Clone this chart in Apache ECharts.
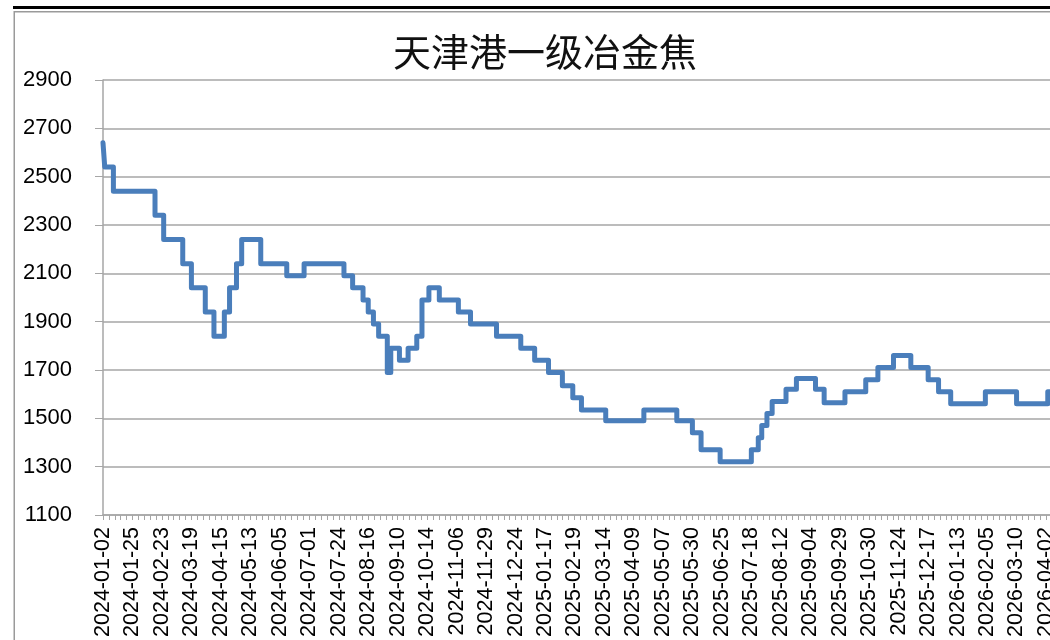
<!DOCTYPE html>
<html>
<head>
<meta charset="utf-8">
<script src="https://cdn.jsdelivr.net/npm/echarts@6/dist/echarts.min.js"></script>
<style>
html,body{margin:0;padding:0;background:#fff;overflow:hidden;width:1050px;height:640px;}
#c{width:1100px;height:640px;}
</style>
</head>
<body>
<div id="c"></div>
<script>
// Title
const chartTitle = '天津港一级冶金焦';
// Category tick labels (every 17th trading day)
const tickLabels = ['2024-01-02','2024-01-25','2024-02-23','2024-03-19','2024-04-15','2024-05-13','2024-06-05','2024-07-01','2024-07-24','2024-08-16','2024-09-10','2024-10-14','2024-11-06','2024-11-29','2024-12-24','2025-01-17','2025-02-19','2025-03-14','2025-04-09','2025-05-07','2025-05-30','2025-06-25','2025-07-18','2025-08-12','2025-09-04','2025-09-29','2025-10-30','2025-11-24','2025-12-17','2026-01-13','2026-02-05','2026-03-10','2026-04-02'];
const labelEvery = 17;
// Price change points: trading-day index where a new price starts, and the price
const dayIndex = [0,1,6,30,35,46,51,59,64,70,73,77,80,91,106,116,139,144,150,153,156,159,164,166,171,176,181,184,188,194,205,212,227,241,249,257,265,271,276,290,312,331,340,345,356,374,378,380,383,386,394,400,411,416,428,440,447,456,466,476,482,489,509,527,545,548];
const price    = [2640,2540,2440,2340,2240,2140,2040,1940,1840,1940,2040,2140,2240,2140,2090,2140,2090,2040,1990,1940,1890,1840,1690,1790,1740,1790,1840,1990,2040,1990,1940,1890,1840,1790,1740,1690,1635,1585,1535,1490,1535,1490,1440,1370,1320,1370,1420,1470,1520,1570,1620,1665,1620,1565,1610,1660,1710,1760,1710,1660,1610,1560,1610,1560,1610,1610];

const seriesData = dayIndex.map((d, i) => [d, price[i]]);
const axisGray = '#a6a6a6';
const pxPerLabel = 29.47;
const chart = echarts.init(document.getElementById('c'));
chart.setOption({
  animation: false,
  backgroundColor: '#fff',
  title: {
    text: chartTitle,
    left: 540, top: 28,
    textAlign: 'center',
    textStyle: { fontFamily: 'Noto Sans CJK SC', fontSize: 38, fontWeight: 'normal', color: '#111' }
  },
  graphic: [
    { type: 'rect', shape: { x: 13, y: 6, width: 1100, height: 3 }, style: { fill: '#000' }, silent: true },
    { type: 'rect', shape: { x: 14, y: 11, width: 1100, height: 1.5 }, style: { fill: '#9a9a9a' }, silent: true },
    { type: 'rect', shape: { x: 13.5, y: 11, width: 1.5, height: 640 }, style: { fill: '#9a9a9a' }, silent: true }
  ],
  grid: { left: 103, top: 80, height: 435, width: 33 * pxPerLabel },
  xAxis: {
    type: 'value', min: 0, max: 561, interval: labelEvery,
    axisLine: { show: true, lineStyle: { color: axisGray, width: 1.5 } },
    axisTick: { show: true, length: 5, lineStyle: { color: axisGray } },
    minorTick: { show: true, splitNumber: 5, length: 5, lineStyle: { color: axisGray } },
    splitLine: { show: false },
    axisLabel: {
      rotate: 90, margin: 12, color: '#000', fontSize: 21.5, fontFamily: 'Liberation Sans',
      showMaxLabel: false,
      formatter: v => tickLabels[Math.round(v / labelEvery)] || ''
    }
  },
  yAxis: {
    type: 'value', min: 1100, max: 2900, interval: 200,
    axisLine: { show: true, lineStyle: { color: axisGray, width: 1.5 } },
    axisTick: { show: true, length: 8, lineStyle: { color: axisGray } },
    splitLine: { show: true, lineStyle: { color: axisGray, width: 1.5 } },
    axisLabel: { margin: 31, color: '#000', fontSize: 22, fontFamily: 'Liberation Sans', formatter: v => String(v) }
  },
  series: [{
    type: 'line',
    data: seriesData,
    step: 'end',
    showSymbol: false,
    lineStyle: { color: '#4a7ebb', width: 5, join: 'round', cap: 'round' },
    clip: false
  }]
});
</script>
</body>
</html>
